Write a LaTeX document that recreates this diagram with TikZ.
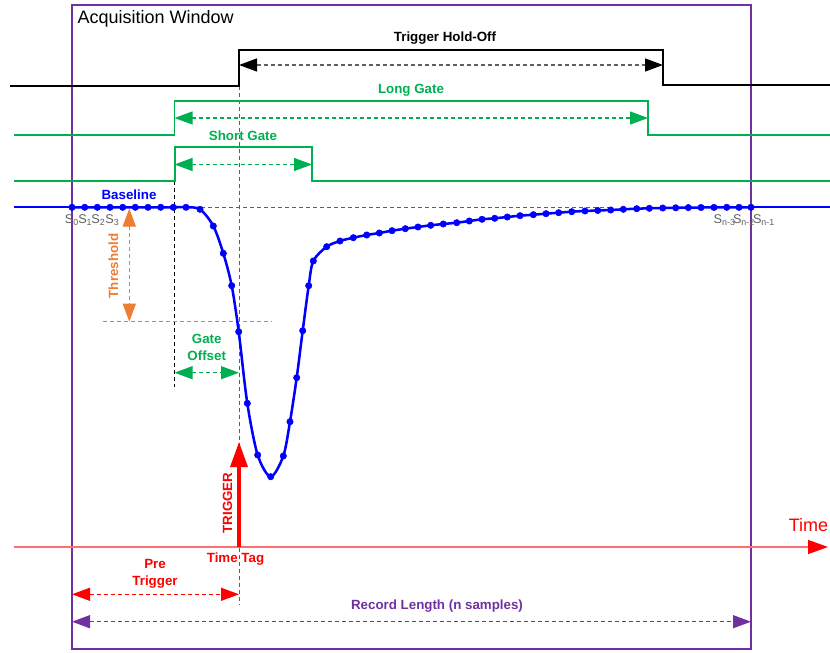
\documentclass[tikz,border=0pt]{standalone}
\usepackage{fontspec}
\setmainfont{Liberation Sans}
\usetikzlibrary{arrows.meta}

\definecolor{gateGreen}{RGB}{0,176,80}
\definecolor{pulseBlue}{RGB}{0,0,255}
\definecolor{thrOrange}{RGB}{237,125,49}
\definecolor{winPurple}{RGB}{112,48,160}
\definecolor{axisRed}{RGB}{255,110,110}
\definecolor{guideGray}{RGB}{95,95,95}

\tikzset{every picture/.style={line width=0.75pt}}
\tikzset{
  dimline/.style={dash pattern={on 3pt off 2.25pt},line width=0.9pt,
    >={Triangle[length=13.5pt,width=9.75pt]},<->},
  lbl/.style={font=\fontsize{10}{12.4}\selectfont\bfseries,inner sep=0.75pt,align=center},
  samplelbl/.style={font=\fontsize{9.5}{10}\selectfont,text=guideGray,inner sep=0.5pt},
  guide/.style={dash pattern={on 3pt off 2.25pt},line width=0.75pt}
}

\begin{document}
\begin{tikzpicture}[x=0.75pt,y=0.75pt,yscale=-1,xscale=1]
\useasboundingbox (0,0) rectangle (830,652);

%Shape: Rectangle - acquisition window
\draw [color=winPurple,line width=1.5pt] (71.5,5) rectangle (751,649);

%Guide Lines
\draw [guide,color=guideGray] (239,86) -- (239,605);
\draw [guide,color=black] (174.5,181) -- (174.5,387);
\draw [guide,color=guideGray] (187,207.3) -- (613,207.3);
\draw [guide,color=thrOrange] (103,321.7) -- (272,321.7);

%Straight Lines - trigger hold-off signal
\draw [line width=1.5pt] (10,86) -- (239,86) -- (239,50) -- (663,50) -- (663,85) -- (830,85);
%Straight Lines - long gate signal
\draw [color=gateGreen,line width=1pt] (14,135) -- (174.5,135) -- (174.5,101) -- (648,101) -- (648,135) -- (830,135);
%Straight Lines - short gate signal
\draw [color=gateGreen,line width=1.5pt] (14,181) -- (174.5,181) -- (174.5,147) -- (312,147) -- (312,181) -- (830,181);

%Dimension Arrows
\coordinate (holdOffA) at (239,65);
\coordinate (holdOffB) at (663,65);
\coordinate (longA) at (174.5,118);
\coordinate (longB) at (648,118);
\coordinate (shortA) at (174.5,164.5);
\coordinate (shortB) at (312,164.5);
\coordinate (thrA) at (129.3,208.5);
\coordinate (thrB) at (129.3,321.7);
\coordinate (offA) at (174.5,372.7);
\coordinate (offB) at (239,372.7);
\coordinate (preA) at (72,594.3);
\coordinate (preB) at (239,594.3);
\coordinate (recA) at (72,621.7);
\coordinate (recB) at (751,621.7);
\draw [dimline,color=guideGray,>={Triangle[length=13.5pt,width=9.75pt,color=black]}] (holdOffA) -- (holdOffB);
\draw [dimline,color=gateGreen] (longA) -- (longB);
\draw [dimline,color=gateGreen] (shortA) -- (shortB);
\draw [dimline,color=thrOrange] (thrA) -- (thrB);
\draw [dimline,color=gateGreen] (offA) -- (offB);
\draw [dimline,color=red] (preA) -- (preB);
\draw [dimline,color=winPurple] (recA) -- (recB);

%Straight Lines - time axis
\coordinate (axisA) at (14,547);
\coordinate (axisB) at (828,547);
\draw [color=axisRed,line width=1.1pt,-{Triangle[length=15pt,width=10.5pt,color=red]}] (axisA) -- (axisB);
%Straight Lines - trigger arrow
\coordinate (trigFoot) at (239,547);
\coordinate (trigTip) at (239,442);
\draw [color=red,line width=2.6pt,-{Triangle[length=18.75pt,width=12.75pt]}] (trigFoot) -- (trigTip);

%Curve Lines - pulse with samples
\draw [color=pulseBlue,line width=1.5pt] (14,207.3) -- (72,207.3);
\draw [color=pulseBlue,line width=1.5pt] (751,207.3) -- (830,207.3);
\draw [color=pulseBlue,line width=1.9pt] plot [smooth,tension=0.5,mark=*,mark size=2.4pt,
  mark options={fill=pulseBlue,line width=0.4pt}] coordinates {
  (72,207.3) (84.7,207.3) (97.3,207.3) (110,207.3) (122.7,207.3) (135.3,207.3)
  (148,207.3) (160.7,207.3) (173.3,207.3) (186,207.3) (200,209.3) (213.3,226)
  (223.3,253.3) (231.7,285.7) (238.7,331.7) (247.3,403.3) (257.7,455) (270.7,476.7)
  (283.3,456) (290,421.7) (296.7,377.7) (302.7,330.7) (308.7,285.7) (313.3,261)
  (326.7,246.7) (340,241) (353.3,237.7) (366.7,235) (379.3,233) (392,230.7)
  (405.3,228.7) (418,227) (430.7,225.3) (443.3,224) (456.7,222.7) (469.3,221)
  (482,219.3) (494.7,218.3) (507.3,217) (520,215.7) (533.3,214.7) (546,213.7)
  (558.7,212.7) (571.7,211.7) (585,211) (597.7,210.5) (610.7,210) (623.3,209.3)
  (636.7,208.7) (649.3,208.3) (662.7,208) (675.7,207.8) (688.3,207.6) (701,207.5)
  (714,207.4) (726.7,207.3) (739,207.3) (751,207.3)};

% Text Node
\draw (76,19) node [anchor=west,inner sep=0.75pt,font=\fontsize{13.5}{16}\selectfont] (acqTitle) {Acquisition Window};
% Text Node
\draw (445,38) node [lbl] (holdOffLbl) {Trigger Hold-Off};
% Text Node
\draw (411,90) node [lbl,text=gateGreen] (longLbl) {Long Gate};
% Text Node
\draw (243,136) node [lbl,text=gateGreen] (shortLbl) {Short Gate};
% Text Node
\draw (129,194.5) node [lbl,text=pulseBlue] (baseLbl) {Baseline};
% Text Node
\draw (113.3,266) node [lbl,text=thrOrange,rotate=90] (thrLbl) {Threshold};
% Text Node
\draw (206.7,347.5) node [lbl,text=gateGreen] (offLbl) {Gate\\Offset};
% Text Node
\draw (227.5,503) node [lbl,text=red,rotate=90] (trigLbl) {TRIGGER};
% Text Node
\draw (808.5,525) node [inner sep=0.75pt,font=\fontsize{13.5}{16}\selectfont,text=red] (timeLbl) {Time};
% Text Node
\draw (235.5,559) node [lbl,text=red] (tagLbl) {Time Tag};
% Text Node
\draw (155,574) node [lbl,text=red] (preLbl) {Pre\\Trigger};
% Text Node
\draw (437,606.5) node [lbl,text=winPurple] (recLbl) {Record Length (n samples)};

% Text Node - sample names
\draw (72,220) node [samplelbl] (s0) {S\textsubscript{0}};
\draw (85.3,220) node [samplelbl] (s1) {S\textsubscript{1}};
\draw (98.5,220) node [samplelbl] (s2) {S\textsubscript{2}};
\draw (112.5,220) node [samplelbl] (s3) {S\textsubscript{3}};
\draw (724.7,220.5) node [samplelbl] (sn3) {S\textsubscript{n-3}};
\draw (744,220.5) node [samplelbl] (sn2) {S\textsubscript{n-2}};
\draw (764,220.5) node [samplelbl] (sn1) {S\textsubscript{n-1}};

\end{tikzpicture}
\end{document}
